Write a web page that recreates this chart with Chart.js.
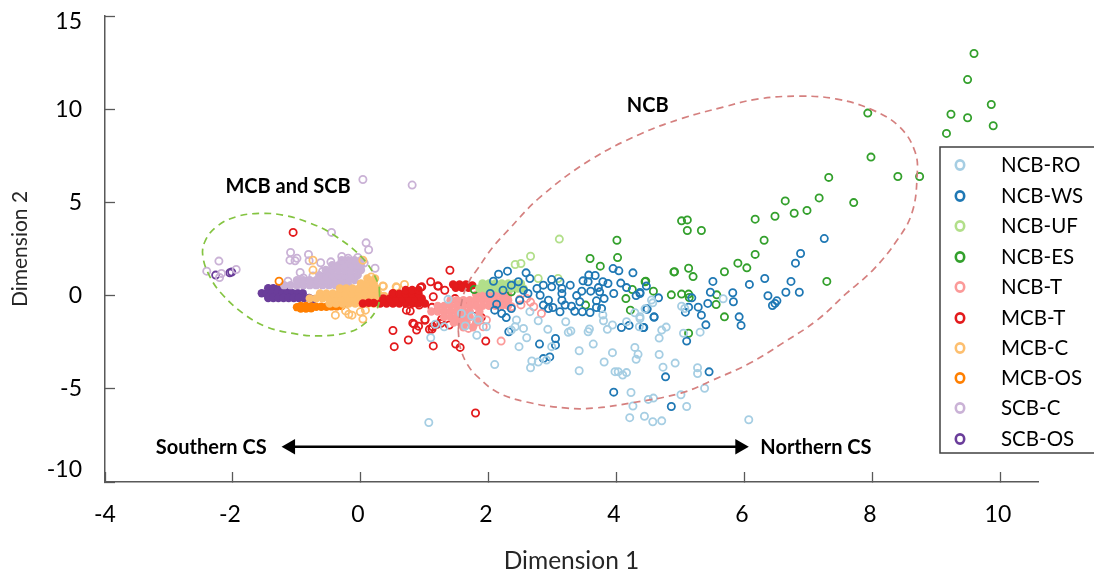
<!DOCTYPE html>
<html>
<head>
<meta charset="utf-8">
<title>Dimension plot</title>
<script src="https://cdn.jsdelivr.net/npm/chart.js@4/dist/chart.umd.min.js"></script>
<style>
    html, body { margin: 0; padding: 0; background: #fff; }
    #plot { display: block; }
</style>
</head>
<body>
<canvas id="plot" width="1094" height="573"></canvas>
<script>
const seriesNames = ['NCB-RO', 'NCB-WS', 'NCB-UF', 'NCB-ES', 'NCB-T', 'MCB-T', 'MCB-C', 'MCB-OS', 'SCB-C', 'SCB-OS'];
const seriesColors = ['#a6cee3', '#1f78b4', '#b2df8a', '#33a02c', '#fb9a99', '#e31a1c', '#fdbf6f', '#ff7f00', '#cab2d6', '#6a3d9a'];

const xTicks = [-4, -2, 0, 2, 4, 6, 8, 10];
const yTicks = [-10, -5, 0, 5, 10, 15];

// single samples
const ncbRo = [[6.06,-6.66],[4.70,-6.72],[4.56,-6.77],[4.43,-6.47],[5.09,-5.95],[5.0,-5.32],[4.57,-5.50],[4.49,-5.57],[5.37,-4.97],[5.26,-4.18],[5.26,-3.87],[4.72,-3.84],[4.91,-3.62],[4.66,-3.16],[4.66,-2.28],[4.70,-1.85],[4.77,-1.69],[5.04,-2.02],[5.30,-1.96],[5.01,-0.57],[5.06,-0.69],[5.66,-0.17],[4.56,-0.39],[4.54,-0.24],[4.44,-0.71],[4.36,-1.23],
    [1.06,-6.81],[2.09,-3.70],[1.09,-2.26],[1.81,-2.13],[1.96,-1.67],[1.83,-1.31],[1.73,-1.1],[1.57,-0.96],[1.63,-1.63],[1.3,-1.67],[1.16,-1.54],[1.36,-0.2],[2.47,-2.74],[2.59,-2.26],[2.54,-1.76],[2.43,-1.31],[2.41,-1.67],[2.35,-1.85],[2.92,-1.81],[3.2,-1.4],[3.24,-1.97],[3.28,-1.9],[3.57,-1.79],[3.55,-1.94],[3.63,-2.6],[3.41,-2.96],[2.98,-2.74],[3.93,-3.06],[3.8,-3.56],[3.41,-4.03],[2.67,-3.51],[2.65,-3.87],[2.77,-3.56],[2.9,-3.46],[3.97,-4.08],[4.02,-4.08],[4.09,-4.26],[4.15,-4.13],[4.3,-3.42],[4.33,-3.15],[4.28,-2.78],[4.22,-5.2],[4.25,-5.92],[4.2,-6.55],[3.78,-1.04],[3.79,-1.35],[3.85,-1.81],[3.93,-1.58],[4.15,-1.4],[4.28,-0.92],[4.36,-1.13],[4.35,-1.67],[2.64,-0.86],[2.77,-1.35]];
const ncbWs = [[7.24,3.06],[6.87,2.26],[6.79,1.74],[6.31,0.92],[6.07,0.60],[6.72,0.76],[6.64,0.18],[6.85,0.18],[6.36,-0.01],[6.50,-0.28],[6.47,-0.42],[6.43,-0.53],[5.50,0.76],[5.81,0.15],[5.46,0.18],[5.82,-0.33],[5.42,-0.42],[5.27,-0.62],[5.17,-0.12],[5.12,-0.62],[5.07,-0.89],[5.32,-1.05],[5.91,-1.14],[5.94,-1.60],[5.39,-1.57],[5.09,-2.44],[5.44,-4.09],[4.76,-4.36],[4.85,-5.95],[4.58,-1.14],[4.47,-0.71],[4.65,-0.12],[4.46,0.51],[4.36,0.11],[4.41,-1.71],
    [3.95,-5.18],[3.04,-2.3],[3.04,-2.66],[2.79,-2.6],[2.95,-3.29],[2.85,-3.38],[2.31,-1.94],[2.27,-1.18],[4.07,-1.71],[4.19,-1.6],[4.42,-1.71],[4.58,-1.16],[4.47,-0.73],[4.36,0.17],[4.3,0.0],[4.15,0.43],[4.06,0.67],[3.95,0.11],[4.25,1.22],[3.94,1.45],[4.03,1.33],[3.66,1.08],[3.56,1.1],[3.47,0.79],[3.55,0.74],[3.78,0.74],[3.86,0.65],[3.71,0.43],[3.73,0.2],[3.59,0.24],[3.45,0.24],[3.37,0.0],[3.27,0.56],[3.11,0.74],[3.14,0.38],[2.98,0.86],[2.58,1.22],[2.29,1.31],[2.15,1.15],[2.07,0.77],[2.46,0.74],[2.64,0.92],[2.85,0.56],[2.75,0.38],[2.98,0.47],[3.14,0.11],[2.8,0.02],[2.93,-0.25],[2.85,-0.51],[3.0,-0.64],[3.11,-0.87],[3.19,-0.51],[3.29,-0.57],[3.34,-0.84],[3.46,-0.87],[3.58,-0.91],[3.42,-0.33],[3.68,-0.64],[3.76,-0.69],[3.8,-0.16],[3.68,-0.28],[3.14,-0.25],[2.35,-0.69],[2.48,-0.25],[2.54,0.29],[2.61,0.11],[2.22,0.29],[2.35,0.56],[2.12,-0.46],[2.02,0.11],[2.09,-0.78],[2.2,-0.96],[2.93,-0.69]];
const ncbUf = [[3.1,3.03],[2.65,2.11],[2.41,1.67],[2.5,1.72],[2.77,0.92],[3.08,0.92]];
const ncbEs = [[9.58,12.99],[9.48,11.59],[9.85,10.25],[9.22,9.73],[9.48,9.54],[9.88,9.11],[9.15,8.70],[7.92,9.79],[7.97,7.43],[8.39,6.39],[8.73,6.39],[7.31,6.34],[7.70,4.99],[7.16,5.24],[6.63,5.08],[6.97,4.57],[6.77,4.42],[6.47,4.26],[6.16,4.10],[5.01,4.01],[5.10,4.06],[5.10,3.49],[5.32,3.49],[6.30,2.97],[6.16,2.21],[5.89,1.74],[6.03,1.49],[5.68,1.28],[5.12,1.47],[4.90,1.28],[5.19,1.02],[7.28,0.76],[4.44,0.74],[4.57,0.24],[4.85,0.04],[5.01,0.08],[5.12,0.08],[5.13,-0.10],[5.56,0.04],[5.55,-0.48],[5.68,-1.14],[5.12,-2.02],
    [4.00,2.97],[4.01,2.04],[3.58,1.99],[3.74,1.58],[4.89,1.27],[4.45,0.77],[4.24,0.33],[4.14,-0.16],[3.51,-0.51],[4.21,-0.78],[1.77,0.33],[2.35,0.2]];
const ncbT = [[2.19,-2.44],[2.82,-0.96],[1.96,-1.31],[1.68,-1.76],[1.91,-1.67],[2.48,-0.2],[2.59,-0.15],[2.7,-0.6],[2.35,-0.6],[2.65,-0.35],[2.5,-0.5]];
const mcbT = [[-1.06,3.39],[1.79,-6.3],[1.95,-2.44],[0.52,-2.74],[0.74,-2.38],[0.5,-1.87],[0.83,-1.53],[0.9,-1.64],[0.87,-1.85],[1.07,-1.81],[1.13,-2.7],[1.12,-1.67],[1.19,-1.54],[1.25,-1.49],[1.38,-1.58],[1.48,-2.6],[1.55,-2.78],[1.39,1.36],[1.09,0.74],[1.21,0.51],[0.93,0.44],[1.31,0.29],[0.77,-0.83],[1.0,-1.28],[1.11,-0.63],[1.34,-0.63],[1.26,-1.28],[1.77,-0.74],[1.88,-1.17],[1.47,-0.16],[1.59,-0.33],[0.91,-0.51],[0.5,0.11],[1.13,-0.06],[0.81,-1.48],[0.71,-0.78],[1.0,-1.32],[1.11,-1.8],[0.95,0.47],[1.2,0.51]];
const mcbC = [[-0.75,1.9],[-0.75,1.37],[-0.4,-1.05],[-0.24,-0.82],[-0.19,-1.0],[-0.14,-1.05],[0.03,-1.26],[-0.01,-0.87],[0.07,-0.78],[0.16,1.0],[0.35,0.5],[0.55,0.47],[0.68,0.6],[0.03,1.9],[0.35,-0.07],[0.34,0.51],[0.56,0.44],[0.36,-0.03]];
const mcbOs = [[-1.28,0.77]];
const scbC = [[0.03,6.23],[0.8,5.93],[-0.46,3.39],[0.08,2.83],[0.12,2.46],[-1.1,2.31],[-0.82,2.21],[-2.22,1.85],[-1.0,2.0],[-1.11,1.9],[-1.03,1.87],[-0.81,1.87],[-0.63,1.76],[-0.47,1.81],[0.22,1.47],[-0.95,1.24],[-1.95,1.4],[-2.41,1.31],[-2.18,1.19],[-2.21,0.97],[-1.14,0.77],[-0.3,2.1],[-0.2,2.0],[-0.05,2.05],[0.05,1.75],[-0.6,1.3],[-0.75,1.05],[-0.9,0.95]];
const scbOs = [[-2.27,1.1],[-2.02,1.26],[-2.05,1.22]];

// the crowded parts of each group, where the rings run together
const ncbUfCore = [[1.9,0.65],[2.0,0.65],[2.1,0.65],[2.2,0.65],[2.3,0.65],[2.4,0.65],[2.5,0.65],[1.85,0.38],[1.95,0.38],[2.05,0.38],[2.15,0.38],[2.25,0.38],[2.35,0.38],[2.45,0.38],[2.54,0.38]];
const ncbTCore = [[1.8,0.05],[1.9,0.05],[2.0,0.05],[2.1,0.05],[2.2,0.05],[2.3,0.05],[1.4,-0.25],[1.5,-0.25],[1.6,-0.25],[1.7,-0.25],[1.8,-0.25],[1.9,-0.25],[2.0,-0.25],[2.1,-0.25],[2.2,-0.25],[2.3,-0.25],[1.2,-0.55],[1.3,-0.55],[1.4,-0.55],[1.5,-0.55],[1.6,-0.55],[1.7,-0.55],[1.8,-0.55],[1.9,-0.55],[2.0,-0.55],[2.1,-0.55],[2.2,-0.55],[2.3,-0.55],[1.1,-0.85],[1.2,-0.85],[1.3,-0.85],[1.4,-0.85],[1.5,-0.85],[1.6,-0.85],[1.7,-0.85],[1.85,-0.85],[1.3,-1.15],[1.4,-1.15],[1.5,-1.15],[1.6,-1.15],[1.7,-1.15],[1.85,-1.15],[1.45,-1.45],[1.55,-1.45],[1.65,-1.45],[1.8,-1.45],[1.6,-1.7],[1.75,-1.7]];
const mcbTCore = [[0.03,-0.42],[0.12,-0.38],[0.2,-0.4],[0.3,-0.42],[0.4,-0.42],[0.5,-0.42],[0.6,-0.42],[0.7,-0.42],[0.8,-0.42],[0.9,-0.42],[1.0,-0.42],[0.35,-0.15],[0.45,-0.15],[0.55,-0.15],[0.65,-0.15],[0.75,-0.15],[0.85,-0.15],[0.95,-0.15],[0.5,0.1],[0.6,0.1],[0.7,0.1],[0.8,0.1],[0.9,0.1],[0.7,0.3],[0.8,0.3],[0.9,0.3],[1.44,0.6],[1.54,0.6],[1.64,0.6],[1.74,0.55],[1.48,0.42],[1.58,0.42],[1.68,0.42]];
const mcbCCore = [[-0.49,-0.42],[-0.39,-0.42],[-0.29,-0.42],[-0.19,-0.42],[-0.09,-0.42],[0.01,-0.42],[0.11,-0.42],[0.2,-0.42],[-0.8,-0.15],[-0.7,-0.15],[-0.6,-0.15],[-0.5,-0.15],[-0.4,-0.15],[-0.3,-0.15],[-0.2,-0.15],[-0.1,-0.15],[0.0,-0.15],[0.1,-0.15],[0.2,-0.15],[0.29,-0.15],[-0.64,0.11],[-0.54,0.11],[-0.44,0.11],[-0.34,0.11],[-0.24,0.11],[-0.14,0.11],[-0.04,0.11],[0.06,0.11],[0.16,0.11],[0.27,0.11],[-0.33,0.38],[-0.23,0.38],[-0.13,0.38],[-0.03,0.38],[0.07,0.38],[0.17,0.38],[0.24,0.38],[0.0,0.65],[0.1,0.65],[0.2,0.65],[0.1,0.92],[0.22,0.92]];
const mcbOsCore = [[-1.0,-0.62],[-0.94,-0.55],[-0.94,-0.7],[-0.86,-0.55],[-0.86,-0.7],[-0.78,-0.58],[-0.78,-0.68],[-0.7,-0.6],[-0.62,-0.6],[-0.54,-0.6],[-0.46,-0.58],[-0.38,-0.58],[-0.3,-0.56]];
const scbCCore = [[-1.2,0.56],[-1.1,0.56],[-1.0,0.56],[-0.9,0.56],[-0.8,0.56],[-0.7,0.56],[-0.6,0.56],[-0.5,0.56],[-0.4,0.56],[-0.3,0.56],[-0.2,0.56],[-1.0,0.83],[-0.9,0.83],[-0.8,0.83],[-0.7,0.83],[-0.6,0.83],[-0.5,0.83],[-0.4,0.83],[-0.3,0.83],[-0.2,0.83],[-0.1,0.83],[-0.65,1.1],[-0.55,1.1],[-0.45,1.1],[-0.35,1.1],[-0.25,1.1],[-0.15,1.1],[-0.05,1.1],[-0.55,1.37],[-0.45,1.37],[-0.35,1.37],[-0.25,1.37],[-0.15,1.37],[-0.05,1.37],[0.0,1.37],[-0.45,1.63],[-0.35,1.63],[-0.25,1.63],[-0.15,1.63],[-0.05,1.63],[0.0,1.63],[-0.3,1.9],[-0.2,1.9],[-0.1,1.9],[0.0,1.9]];
const scbOsCore = [[-1.45,0.4],[-1.37,0.4],[-1.29,0.4],[-1.21,0.4],[-1.13,0.4],[-1.55,0.13],[-1.47,0.13],[-1.39,0.13],[-1.31,0.13],[-1.23,0.13],[-1.15,0.13],[-1.07,0.13],[-0.99,0.13],[-0.91,0.13],[-1.45,-0.13],[-1.37,-0.13],[-1.29,-0.13],[-1.21,-0.13],[-1.13,-0.13],[-1.05,-0.13],[-0.97,-0.13],[-0.89,-0.13],[-0.81,-0.13],[-0.75,-0.2]];

// dashed group outlines
const ncbOutline = [[1.52,-1.85],[1.55,-2.76],[1.67,-3.73],[1.83,-4.37],[2.13,-5.18],[2.59,-5.71],[3.22,-6.04],[3.63,-6.04],[4.2,-5.77],[5.0,-5.23],[5.5,-4.53],[6.08,-3.62],[6.59,-2.55],[7.13,-1.31],[7.59,0.13],[8.0,1.37],[8.38,2.98],[8.61,4.43],[8.69,6.36],[8.66,7.7],[8.42,9.04],[8.0,9.95],[7.44,10.54],[6.86,10.7],[6.19,10.54],[5.66,10.11],[5.03,9.52],[4.36,8.66],[3.58,7.27],[2.8,5.28],[2.3,3.51],[2.05,2.55],[1.81,1.37],[1.7,0.83],[1.58,-0.24],[1.52,-1.85]];
const mcbOutline = [[0.29,0.11],[0.27,0.65],[0.03,1.99],[-0.46,3.33],[-0.85,3.96],[-1.22,4.32],[-1.58,4.41],[-1.95,4.23],[-2.26,3.69],[-2.44,2.89],[-2.47,2.08],[-2.36,1.01],[-2.18,0.11],[-1.84,-0.96],[-1.48,-1.67],[-1.06,-2.03],[-0.64,-2.16],[-0.17,-1.94],[0.09,-1.41],[0.24,-0.78],[0.29,-0.24],[0.29,0.11]];
const csArrow = [[-1.1,-8.11],[5.92,-8.11]];

const noteLabels = ['NCB', 'MCB and SCB', 'Southern CS', 'Northern CS'];
const noteAt = [[4.48,10.22],[-1.14,5.87],[-2.34,-8.13],[7.11,-8.13]];

const rings = [ncbRo, ncbWs, ncbUf, ncbEs, ncbT, mcbT, mcbC, mcbOs, scbC, scbOs];
const cores = [[], [], ncbUfCore, [], ncbTCore, mcbTCore, mcbCCore, mcbOsCore, scbCCore, scbOsCore];

const fontName = 'Lato, "Open Sans", sans-serif';
const axisColor = '#595959';

function toPoints(pairs) {
    return pairs.map(p => ({ x: p[0], y: p[1] }));
}

function buildDatasets() {
    const sets = [];
    seriesNames.forEach((name, i) => {
        // lower order is painted last, so the first name ends up on top
        sets.push({
            label: name,
            data: toPoints(rings[i]),
            order: 2 * i + 2,
            borderColor: seriesColors[i],
            backgroundColor: 'transparent',
            pointRadius: 3.6,
            pointBorderWidth: 1.8
        });
        sets.push({
            label: name + ' dense',
            data: toPoints(cores[i]),
            order: 2 * i + 3,
            borderColor: seriesColors[i],
            backgroundColor: seriesColors[i],
            pointRadius: 4.2,
            pointBorderWidth: 0
        });
    });
    sets.push({
        label: 'NCB outline', data: toPoints(ncbOutline), showLine: true, tension: 0.4, order: 0,
        borderColor: '#d5807f', borderWidth: 1.7, borderDash: [7, 5], pointRadius: 0
    });
    sets.push({
        label: 'MCB and SCB outline', data: toPoints(mcbOutline), showLine: true, tension: 0.4, order: 0,
        borderColor: '#84c441', borderWidth: 1.7, borderDash: [7, 5], pointRadius: 0
    });
    sets.push({
        label: 'CS arrow', data: toPoints(csArrow), showLine: true, order: 0,
        borderColor: '#000', backgroundColor: '#000', borderWidth: 2.5,
        pointStyle: 'triangle', pointRadius: 9, pointRotation: [-90, 90], pointBorderWidth: 0
    });
    return sets;
}

// nudges the tick labels to where the picture has them
const shiftLabels = {
    id: 'shiftLabels',
    beforeDraw(chart) {
        const yShift = [-12, 0, 0, 0, 0, 6];
        chart.scales.y.getLabelItems().forEach((item, i) => {
            item.options.translation[1] += yShift[i];
        });
        chart.scales.x.getLabelItems().forEach((item, i) => {
            item.options.translation[0] += i === 0 ? 0 : -3;
        });
    }
};

const notes = {
    id: 'notes',
    afterDatasetsDraw(chart) {
        const ctx = chart.ctx;
        ctx.save();
        ctx.font = 'bold 20px ' + fontName;
        ctx.fillStyle = '#000';
        ctx.textAlign = 'center';
        ctx.textBaseline = 'middle';
        noteLabels.forEach((text, i) => {
            ctx.fillText(text, chart.scales.x.getPixelForValue(noteAt[i][0]), chart.scales.y.getPixelForValue(noteAt[i][1]));
        });
        ctx.restore();
    }
};

const boxLegend = {
    id: 'boxLegend',
    afterDraw(chart) {
        const ctx = chart.ctx;
        const rowY = [165, 196, 226, 257, 287, 318, 348, 378, 408, 439];
        ctx.save();
        ctx.fillStyle = '#fff';
        ctx.fillRect(940, 147, 154, 306);
        ctx.strokeStyle = '#404040';
        ctx.lineWidth = 1.5;
        ctx.strokeRect(940, 147, 160, 306);
        ctx.font = '20.5px ' + fontName;
        ctx.textBaseline = 'middle';
        ctx.textAlign = 'left';
        seriesNames.forEach((name, i) => {
            ctx.beginPath();
            ctx.ellipse(960, rowY[i], 4.2, 4.6, 0, 0, Math.PI * 2);
            ctx.strokeStyle = seriesColors[i];
            ctx.lineWidth = 2.6;
            ctx.stroke();
            ctx.fillStyle = '#000';
            ctx.fillText(name, 1001, rowY[i]);
        });
        ctx.restore();
    }
};

new Chart(document.getElementById('plot'), {
    type: 'scatter',
    data: { datasets: buildDatasets() },
    plugins: [shiftLabels, notes, boxLegend],
    options: {
        responsive: false,
        animation: false,
        layout: { padding: { top: 16, right: 56, left: 0, bottom: 0 } },
        plugins: { legend: { display: false }, tooltip: { enabled: false } },
        scales: {
            x: {
                type: 'linear',
                min: -4,
                max: 10.58,
                afterBuildTicks: scale => { scale.ticks = xTicks.map(v => ({ value: v })); },
                afterFit: scale => { scale.height = 91; scale.paddingLeft = 0; scale.paddingRight = 0; },
                grid: { drawOnChartArea: false, tickLength: -10, tickWidth: 1.3, tickColor: axisColor },
                border: { color: axisColor, width: 1.5 },
                ticks: { color: '#000', padding: 29, maxRotation: 0, font: { family: fontName, size: 23 } },
                title: { display: true, text: 'Dimension 1', color: '#262626', padding: { top: 0, bottom: -3 }, font: { family: fontName, size: 24.5 } }
            },
            y: {
                type: 'linear',
                min: -10,
                max: 15,
                afterBuildTicks: scale => { scale.ticks = yTicks.map(v => ({ value: v })); },
                afterFit: scale => { scale.width = 105; scale.paddingTop = 0; scale.paddingBottom = 0; },
                grid: { drawOnChartArea: false, tickLength: -10, tickWidth: 1.3, tickColor: axisColor },
                border: { color: axisColor, width: 1.5 },
                ticks: { color: '#000', padding: 33, font: { family: fontName, size: 23 } },
                title: { display: true, text: 'Dimension 2', color: '#262626', padding: { top: 8, bottom: 0 }, font: { family: fontName, size: 21 } }
            }
        }
    }
});
</script>
</body>
</html>
